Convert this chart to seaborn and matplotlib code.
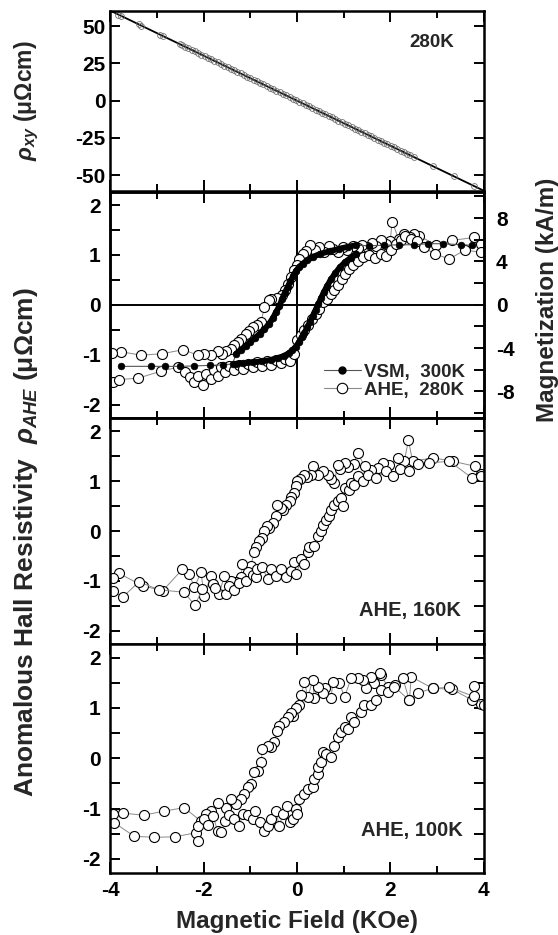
"""
Hall resistivity panels: rho_xy at 280K, then AHE loops at 280K (with VSM),
160K and 100K, all versus applied field.
"""
import matplotlib
matplotlib.use("Agg")
import matplotlib.pyplot as plt
from matplotlib.lines import Line2D
from matplotlib.ticker import MultipleLocator, FixedLocator
import seaborn as sns

# ---- data ----
# top panel: total Hall resistivity at 280 K (uOhm cm) vs field (kOe)
rxy_field = [-3.83, -3.77, -3.39, -3.34, -2.94, -2.88, -2.51, -2.46, -2.40, -2.33,
             -2.26, -2.19, -2.12, -2.05, -1.98, -1.91, -1.84, -1.77, -1.70, -1.63,
             -1.56, -1.49, -1.42, -1.35, -1.28, -1.21, -1.14, -1.07, -1.00, -0.93,
             -0.86, -0.79, -0.72, -0.65, -0.58, -0.51, -0.44, -0.37, -0.30, -0.23,
             -0.16, -0.09, -0.02, 0.05, 0.12, 0.19, 0.26, 0.33, 0.40, 0.47,
             0.54, 0.61, 0.68, 0.75, 0.82, 0.89, 0.96, 1.03, 1.10, 1.17,
             1.24, 1.31, 1.38, 1.45, 1.52, 1.59, 1.66, 1.73, 1.80, 1.87,
             1.94, 2.01, 2.08, 2.15, 2.22, 2.29, 2.36, 2.43, 2.50, 2.91,
             3.37, 3.79]
rxy_rho = [57.8, 56.9, 51.2, 50.4, 44.4, 43.5, 37.9, 37.1, 36.2, 35.2,
           34.1, 33.1, 32.0, 31.0, 29.9, 28.8, 27.8, 26.7, 25.7, 24.6,
           23.6, 22.5, 21.4, 20.4, 19.3, 18.3, 17.2, 16.2, 15.1, 14.0,
           13.0, 11.9, 10.9, 9.8, 8.8, 7.7, 6.6, 5.6, 4.5, 3.5,
           2.4, 1.4, 0.3, -0.8, -1.8, -2.9, -3.9, -5.0, -6.0, -7.1,
           -8.2, -9.2, -10.3, -11.3, -12.4, -13.4, -14.5, -15.6, -16.6, -17.7,
           -18.7, -19.8, -20.8, -21.9, -23.0, -24.0, -25.1, -26.1, -27.2, -28.2,
           -29.3, -30.4, -31.4, -32.5, -33.5, -34.6, -35.6, -36.7, -37.8, -43.9,
           -50.9, -57.2]
fit_field = [-4.0, 4.0]
fit_rho = [60.4, -60.4]

# VSM loop at 300 K, magnetization in kA/m (right axis of panel 2)
vsm_field_down = [3.76, 3.52, 3.14, 2.81, 2.52, 2.19, 1.87, 1.55,
                  1.27, 1.10, 0.90, 0.70, 0.50, 0.35, 0.22, 0.12, 0.05, -0.02,
                  -0.08, -0.14, -0.20, -0.26, -0.32, -0.38, -0.45, -0.52, -0.60, -0.70,
                  -0.80, -0.90, -1.00, -1.10, -1.20, -1.31,
                  -1.38, -1.58, -1.86, -2.21, -2.51, -2.83, -3.14, -3.78]
vsm_m_down = [5.50, 5.54, 5.64, 5.64, 5.54, 5.54, 5.50, 5.45,
              5.50, 5.36, 5.17, 4.94, 4.71, 4.44, 4.11, 3.79, 3.51, 3.14,
              2.68, 2.17, 1.66, 1.11, 0.51, -0.14, -0.69, -1.25, -1.76, -2.26,
              -2.68, -3.05, -3.42, -3.79, -4.16, -4.53,
              -5.45, -5.54, -5.59, -5.64, -5.68, -5.68, -5.68, -5.68]
vsm_field_up = [-1.31, -1.15, -0.95, -0.75, -0.55, -0.40, -0.28, -0.18, -0.10, -0.03,
                0.04, 0.10, 0.16, 0.22, 0.28, 0.34, 0.40, 0.46, 0.52, 0.58,
                0.65, 0.73, 0.82, 0.92, 1.03, 1.15, 1.27]
vsm_m_up = [-5.45, -5.41, -5.31, -5.22, -5.08, -4.90, -4.71, -4.48, -4.20, -3.88,
            -3.47, -3.00, -2.59, -2.08, -1.57, -1.02, -0.46, 0.09, 0.65, 1.20,
            1.76, 2.36, 2.91, 3.47, 3.93, 4.34, 4.71]

# AHE 280 K (uOhm cm)
ahe280_down_field = [3.95, 3.79, 3.32, 2.98, 2.62, 2.52, 2.42, 2.30, 2.18, 2.04,
                     2.00, 1.90, 1.80, 1.70, 1.60, 1.50, 1.40, 1.30, 1.20, 1.08,
                     0.98, 0.88, 0.78, 0.68, 0.58, 0.48, 0.38, 0.28, 0.20, 0.12,
                     0.05, 0.00, -0.06, -0.13, -0.20, -0.26, -0.32, -0.42, -0.56, -0.59,
                     -0.70, -0.77, -0.86, -0.95, -1.02, -1.09, -1.20, -1.27, -1.35, -1.42,
                     -1.52, -1.60, -1.70, -1.85, -1.99, -2.13, -2.44, -2.89, -3.34, -3.78,
                     -3.97]
ahe280_down_rho = [1.22, 1.35, 1.29, 1.20, 1.38, 1.42, 1.36, 1.42, 1.32, 1.67,
                   1.28, 1.22, 1.30, 1.18, 1.24, 1.16, 1.20, 1.13, 1.17, 1.10,
                   1.15, 1.06, 1.12, 1.18, 1.05, 1.16, 1.10, 1.20, 1.08, 1.02,
                   0.92, 0.80, 0.70, 0.55, 0.42, 0.30, 0.20, 0.14, 0.12, 0.09,
                   -0.05, -0.35, -0.40, -0.45, -0.52, -0.58, -0.68, -0.75, -0.80, -0.88,
                   -0.92, -0.98, -0.92, -1.01, -0.98, -1.01, -0.90, -0.98, -1.01, -0.94,
                   -0.96]
ahe280_up_field = [-3.95, -3.82, -3.40, -2.92, -2.55, -2.40, -2.30, -2.20, -2.12, -2.02,
                   -1.95, -1.85, -1.78, -1.70, -1.62, -1.55, -1.45, -1.35, -1.25, -1.15,
                   -1.05, -0.95, -0.85, -0.75, -0.65, -0.55, -0.45, -0.35, -0.25, -0.15,
                   -0.06, 0.00, 0.08, 0.16, 0.24, 0.32, 0.40, 0.48, 0.56, 0.64,
                   0.72, 0.80, 0.88, 0.96, 1.04, 1.12, 1.20, 1.30, 1.42, 1.55,
                   1.68, 1.80, 1.91, 2.02, 2.12, 2.22, 2.32, 2.45, 2.58, 2.73,
                   2.95, 3.27, 3.60, 3.95]
ahe280_up_rho = [-1.55, -1.50, -1.47, -1.33, -1.25, -1.35, -1.45, -1.55, -1.42, -1.60,
                 -1.38, -1.48, -1.30, -1.42, -1.25, -1.35, -1.22, -1.30, -1.20, -1.28,
                 -1.18, -1.25, -1.15, -1.22, -1.12, -1.20, -1.10, -1.17, -1.08, -1.12,
                 -0.98, -0.70, -0.60, -0.50, -0.40, -0.28, -0.18, -0.08, 0.05, 0.12,
                 0.22, 0.30, 0.40, 0.52, 0.62, 0.72, 0.80, 0.88, 0.96, 1.00,
                 0.94, 1.02, 0.97, 1.10, 1.22, 1.30, 1.38, 1.32, 1.28, 1.15,
                 1.02, 0.92, 1.10, 1.05]

# AHE 160 K
ahe160_down_field = [3.95, 3.82, 3.35, 2.91, 2.48, 2.39, 2.30, 2.16, 1.98, 1.84,
                     1.73, 1.59, 1.45, 1.30, 1.22, 1.10, 1.02, 0.92, 0.87, 0.80,
                     0.72, 0.66, 0.55, 0.44, 0.34, 0.30, 0.22, 0.16, 0.06, 0.01,
                     -0.02, -0.06, -0.12, -0.16, -0.24, -0.30, -0.34, -0.42, -0.45, -0.52,
                     -0.59, -0.64, -0.70, -0.74, -0.81, -0.88, -0.92, -0.99, -1.06, -1.17,
                     -1.20, -1.31, -1.42, -1.56, -1.67, -1.85, -1.99, -2.06, -2.20, -2.31,
                     -2.46, -2.88, -3.31, -3.82, -3.95]
ahe160_down_rho = [1.15, 1.30, 1.40, 1.47, 1.40, 1.82, 1.40, 1.47, 1.33, 1.37,
                   1.27, 1.23, 1.30, 1.57, 1.35, 1.28, 1.37, 1.25, 1.33, 0.97,
                   1.05, 1.13, 1.20, 1.13, 1.30, 1.13, 1.08, 1.13, 1.05, 1.00,
                   0.90, 0.77, 0.68, 0.60, 0.53, 0.42, 0.47, 0.53, 0.30, 0.17,
                   0.07, 0.10, 0.00, -0.13, -0.20, -0.33, -0.43, -0.70, -0.83, -0.67,
                   -0.93, -1.03, -1.00, -0.90, -1.27, -0.90, -1.30, -0.83, -1.13, -0.87,
                   -0.77, -1.20, -1.10, -0.85, -0.95]
ahe160_up_field = [-3.95, -3.74, -3.39, -2.96, -2.42, -2.19, -2.03, -1.81, -1.75, -1.53,
                   -1.45, -1.35, -1.25, -1.10, -0.95, -0.88, -0.85, -0.74, -0.63, -0.56,
                   -0.45, -0.34, -0.24, -0.13, -0.06, -0.02, 0.09, 0.16, 0.23, 0.26,
                   0.37, 0.44, 0.52, 0.55, 0.62, 0.69, 0.73, 0.80, 0.87, 0.94,
                   0.98, 1.02, 1.12, 1.16, 1.23, 1.30, 1.41, 1.52, 1.70, 1.91,
                   2.05, 2.20, 2.41, 2.60, 2.84, 3.27, 3.75, 3.95]
ahe160_up_rho = [-1.20, -1.33, -1.02, -1.18, -1.23, -1.49, -1.17, -1.07, -1.15, -1.27,
                 -1.10, -1.18, -1.05, -1.00, -0.88, -0.93, -0.77, -0.73, -0.97, -0.77,
                 -0.90, -0.77, -0.93, -0.80, -0.63, -0.87, -0.57, -0.67, -0.43, -0.33,
                 -0.30, -0.10, 0.00, 0.13, 0.23, 0.30, 0.43, 0.53, 0.60, 0.67,
                 0.50, 0.87, 0.83, 0.97, 0.93, 1.10, 1.00, 1.13, 1.07, 1.20,
                 1.10, 1.25, 1.20, 1.35, 1.37, 1.40, 1.07, 1.10]

# AHE 100 K
ahe100_down_field = [3.95, 3.79, 3.75, 3.33, 2.91, 2.45, 2.41, 2.27, 2.10, 1.95,
                     1.80, 1.77, 1.66, 1.59, 1.48, 1.41, 1.30, 1.16, 1.02, 0.91,
                     0.77, 0.73, 0.59, 0.55, 0.44, 0.37, 0.34, 0.23, 0.16, 0.09,
                     0.05, -0.02, -0.08, -0.13, -0.20, -0.27, -0.38, -0.42, -0.49, -0.56,
                     -0.63, -0.74, -0.77, -0.84, -0.92, -0.99, -1.06, -1.13, -1.20, -1.31,
                     -1.42, -1.52, -1.70, -1.85, -1.95, -2.06, -2.42, -2.85, -3.29, -3.74,
                     -3.95]
ahe100_down_rho = [1.08, 1.44, 1.16, 1.37, 1.39, 1.62, 1.15, 1.59, 1.45, 1.42,
                   1.65, 1.69, 1.49, 1.62, 1.40, 1.55, 1.59, 1.59, 1.22, 1.49,
                   1.52, 1.19, 1.39, 1.29, 1.42, 1.19, 1.55, 1.22, 1.52, 1.25,
                   1.05, 0.99, 0.85, 0.89, 0.82, 0.72, 0.65, 0.55, 0.32, 0.22,
                   0.25, 0.19, -0.08, -0.25, -0.28, -0.51, -0.58, -0.71, -0.81, -0.91,
                   -0.81, -0.98, -0.88, -1.05, -1.11, -1.25, -0.98, -1.05, -1.13, -1.09,
                   -1.10]
ahe100_up_field = [-3.92, -3.49, -3.06, -2.62, -2.17, -2.12, -2.13, -1.99, -1.90, -1.80,
                   -1.70, -1.62, -1.55, -1.45, -1.35, -1.25, -1.15, -1.05, -0.95, -0.90,
                   -0.80, -0.70, -0.62, -0.55, -0.45, -0.38, -0.30, -0.22, -0.15, -0.08,
                   -0.02, 0.00, 0.05, 0.16, 0.23, 0.34, 0.37, 0.44, 0.44, 0.52,
                   0.55, 0.62, 0.73, 0.80, 0.87, 0.94, 1.02, 1.09, 1.16, 1.23,
                   1.37, 1.44, 1.59, 1.70, 1.80, 1.95, 2.09, 2.41, 2.60, 2.91,
                   3.27, 3.79, 4.00]
ahe100_up_rho = [-1.28, -1.55, -1.57, -1.56, -1.48, -1.65, -1.35, -1.20, -1.32, -1.15,
                 -1.45, -1.47, -1.25, -1.12, -1.20, -1.35, -1.10, -1.12, -1.20, -1.05,
                 -1.27, -1.45, -1.35, -1.20, -1.05, -1.35, -1.10, -0.95, -1.27, -1.20,
                 -1.00, -1.11, -0.81, -0.71, -0.61, -0.58, -0.41, -0.31, -0.18, -0.08,
                 0.12, 0.09, 0.02, 0.25, 0.42, 0.52, 0.62, 0.59, 0.82, 0.72,
                 0.92, 1.05, 1.05, 1.15, 1.35, 1.32, 1.42, 1.15, 1.30, 1.39,
                 1.41, 1.23, 1.06]

# ---- style ----
sns.set_theme(style="ticks")
plt.rcParams["font.family"] = ["Liberation Sans", "DejaVu Sans"]
plt.rcParams.update({
    "font.weight": "bold",
    "axes.unicode_minus": False,
    "mathtext.fontset": "custom",
    "mathtext.rm": "Liberation Sans:bold",
    "mathtext.it": "Liberation Sans:italic:bold",
    "mathtext.bf": "Liberation Sans:bold",
})

AHE_KW = dict(sort=False, estimator=None, color="#8a8a8a", lw=0.7, marker="o",
              markersize=7.2, markerfacecolor="white", markeredgecolor="black",
              markeredgewidth=0.8)


def style_axes(ax, right=True):
    for s in ax.spines.values():
        s.set_linewidth(1.8)
        s.set_color("black")
    ax.tick_params(axis="both", which="both", direction="in", top=True, right=right,
                   width=1.4, colors="black", labelsize=15)
    ax.tick_params(axis="x", which="major", length=8, pad=6)
    ax.tick_params(axis="x", which="minor", length=5)
    ax.tick_params(axis="y", which="both", length=7)
    ax.tick_params(axis="x", labelbottom=False)
    ax.set_xlabel("")
    ax.set_ylabel("")


def loop_yaxis(ax):
    ax.set_ylim(-2.27, 2.27)
    ax.yaxis.set_major_locator(FixedLocator([-2, -1, 0, 1, 2]))
    ax.yaxis.set_minor_locator(MultipleLocator(0.5))
    ax.tick_params(axis="y", pad=7)


fig = plt.figure(figsize=(5.58, 9.35), dpi=100)
left, width = 0.198, 0.6685
ax1 = fig.add_axes([left, 0.7952, width, 0.1930])
ax2 = fig.add_axes([left, 0.5529, width, 0.2422], sharex=ax1)
ax3 = fig.add_axes([left, 0.3112, width, 0.2417], sharex=ax1)
ax4 = fig.add_axes([left, 0.0668, width, 0.2444], sharex=ax1)

# panel 1: rho_xy
sns.lineplot(x=fit_field, y=fit_rho, ax=ax1, sort=False, estimator=None,
             color="black", lw=1.3)
sns.lineplot(x=rxy_field, y=rxy_rho, ax=ax1, sort=False, estimator=None, lw=0,
             marker="o", markersize=4.2, markerfacecolor="none",
             markeredgecolor="#707070", markeredgewidth=0.6)
ax1.set_ylim(-61, 60.2)
ax1.yaxis.set_major_locator(FixedLocator([-50, -25, 0, 25, 50]))
ax1.text(0.862, 0.823, "280K", transform=ax1.transAxes, ha="center", va="center",
         fontsize=13.5)

# panel 2: AHE 280K + VSM 300K
ax2.axhline(0, color="black", lw=1.4, zorder=0.5)
ax2.axvline(0, color="black", lw=1.4, zorder=0.5)
sns.lineplot(x=ahe280_down_field, y=ahe280_down_rho, ax=ax2, **AHE_KW)
sns.lineplot(x=ahe280_up_field, y=ahe280_up_rho, ax=ax2, **AHE_KW)
loop_yaxis(ax2)

axm = ax2.twinx()
vsm_kw = dict(sort=False, estimator=None, color="#555555", lw=0.8, marker="o",
              markersize=4.8, markerfacecolor="black", markeredgecolor="black",
              markeredgewidth=0.5)
sns.lineplot(x=vsm_field_down, y=vsm_m_down, ax=axm, **vsm_kw)
sns.lineplot(x=vsm_field_up, y=vsm_m_up, ax=axm, **vsm_kw)
# dense part of the VSM loop shows as a thick black band
sns.lineplot(x=vsm_field_down[8:34], y=vsm_m_down[8:34], ax=axm, sort=False,
             estimator=None, color="black", lw=4.2, solid_capstyle="round")
sns.lineplot(x=vsm_field_up, y=vsm_m_up, ax=axm, sort=False, estimator=None,
             color="black", lw=4.2, solid_capstyle="round")
axm.set_ylim(-10.45, 10.45)
axm.yaxis.set_major_locator(MultipleLocator(4))
axm.yaxis.set_minor_locator(MultipleLocator(2))

handles = [
    Line2D([], [], color="#555555", lw=0.8, marker="o", markersize=5,
           markerfacecolor="black", markeredgecolor="black", label="VSM,  300K"),
    Line2D([], [], color="#8a8a8a", lw=0.8, marker="o", markersize=7.5,
           markerfacecolor="white", markeredgecolor="black", markeredgewidth=0.8,
           label="AHE,  280K"),
]
axm.legend(handles=handles, loc="lower right", bbox_to_anchor=(0.95, 0.085),
           frameon=False, fontsize=13.5, handlelength=2.0, handletextpad=0.15,
           labelspacing=0.05, borderpad=0, borderaxespad=0)

# panel 3: AHE 160K
sns.lineplot(x=ahe160_down_field, y=ahe160_down_rho, ax=ax3, **AHE_KW)
sns.lineplot(x=ahe160_up_field, y=ahe160_up_rho, ax=ax3, **AHE_KW)
loop_yaxis(ax3)
ax3.text(0.94, 0.15, "AHE, 160K", transform=ax3.transAxes, ha="right", va="center",
         fontsize=14.5)

# panel 4: AHE 100K
sns.lineplot(x=ahe100_down_field, y=ahe100_down_rho, ax=ax4, **AHE_KW)
sns.lineplot(x=ahe100_up_field, y=ahe100_up_rho, ax=ax4, **AHE_KW)
loop_yaxis(ax4)
ax4.text(0.945, 0.183, "AHE, 100K", transform=ax4.transAxes, ha="right", va="center",
         fontsize=14.5)

ax1.set_xlim(-4, 4)
ax1.xaxis.set_major_locator(MultipleLocator(2))
ax1.xaxis.set_minor_locator(MultipleLocator(1))

for ax in (ax1, ax3, ax4):
    style_axes(ax)
style_axes(ax2, right=False)
style_axes(axm, right=True)
axm.tick_params(axis="y", which="both", left=False, right=True, pad=9)
ax4.tick_params(axis="x", labelbottom=True)

# axis titles
fig.text(0.048, 0.892, r"$\rho_{xy}$ (μΩcm)", rotation=90, ha="center",
         va="center", fontsize=16.5)
fig.text(0.0466, 0.4203, r"Anomalous Hall Resistivity  $\rho_{AHE}$ (μΩcm)",
         rotation=90, ha="center", va="center", fontsize=19)
fig.text(0.981, 0.679, "Magnetization (kA/m)", rotation=90, ha="center",
         va="center", fontsize=17.5)
fig.text(0.532, 0.0142, "Magnetic Field (KOe)", ha="center", va="center",
         fontsize=17.5)

fig.savefig("out.png", dpi=100)
